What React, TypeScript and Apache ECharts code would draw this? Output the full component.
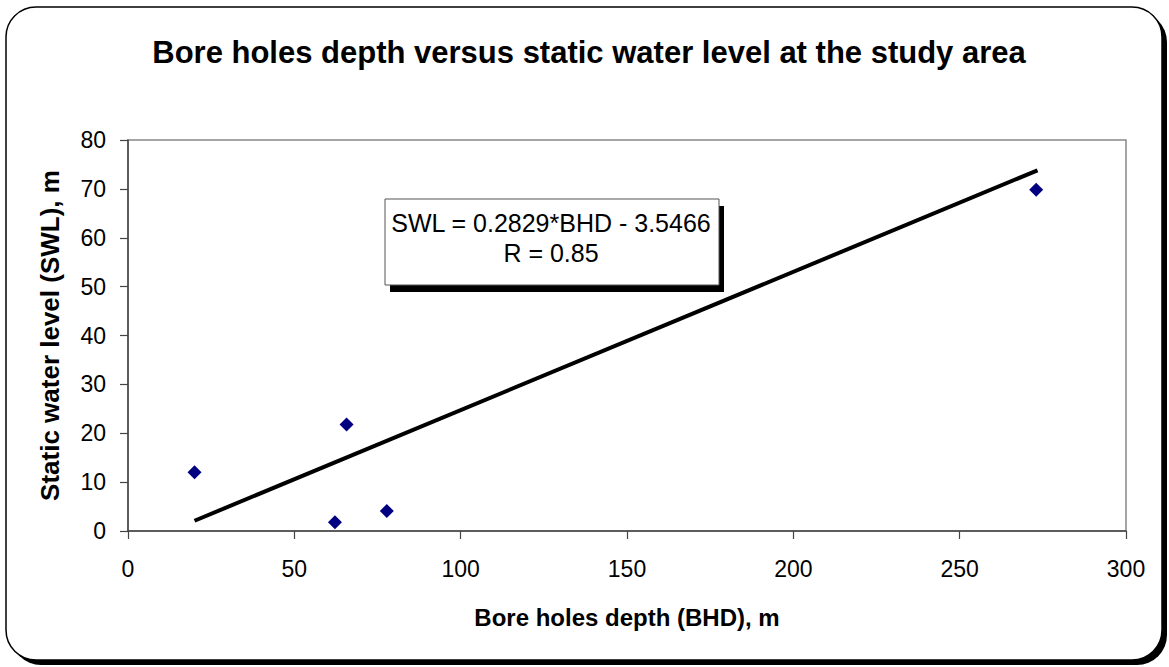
import React, { useEffect, useRef } from "react";
import * as echarts from "echarts";

const titleText = "Bore holes depth versus static water level at the study area";
const xAxisName = "Bore holes depth (BHD), m";
const yAxisName = "Static water level (SWL), m";
const equationLines = ["SWL = 0.2829*BHD - 3.5466", "R = 0.85"];

// observed bore holes: [depth BHD, static water level SWL]
const boreDepth = [20, 62.2, 65.7, 77.8, 273];
const waterLevel = [12, 1.8, 21.8, 4.1, 69.8];

// trend line endpoints
const trendDepth = [20, 273.4];
const trendLevel = [2.1, 73.8];

const xMin = 0, xMax = 300, xInterval = 50;
const yMin = 0, yMax = 80, yInterval = 10;

export default function App() {
  const ref = useRef<HTMLDivElement>(null);
  useEffect(() => {
    if (!ref.current) return;
    const chart = echarts.init(ref.current, null, { renderer: "svg" });
    const font = "Arial, 'Liberation Sans', Helvetica, sans-serif";
    const points = boreDepth.map((d, i) => [d, waterLevel[i]]);
    const trend = trendDepth.map((d, i) => [d, trendLevel[i]]);
    chart.setOption({
      animation: false,
      backgroundColor: "#ffffff",
      textStyle: { fontFamily: font },
      grid: {
        left: 128,
        right: 43,
        top: 140,
        bottom: 136,
        show: true,
        borderColor: "#888888",
        borderWidth: 1.5,
        backgroundColor: "transparent",
      },
      xAxis: {
        type: "value",
        min: xMin,
        max: xMax,
        interval: xInterval,
        name: xAxisName,
        nameLocation: "middle",
        nameGap: 74,
        nameTextStyle: { fontSize: 24, fontWeight: "bold", color: "#000", fontFamily: font },
        axisLine: { show: true, lineStyle: { color: "#444", width: 1.5 } },
        axisTick: { show: true, length: 8, lineStyle: { color: "#444", width: 1.2 } },
        axisLabel: { fontSize: 23, color: "#000", margin: 26, fontFamily: font },
        splitLine: { show: false },
      },
      yAxis: {
        type: "value",
        min: yMin,
        max: yMax,
        interval: yInterval,
        name: yAxisName,
        nameLocation: "middle",
        nameGap: 65,
        nameTextStyle: { fontSize: 26, fontWeight: "bold", color: "#000", fontFamily: font },
        axisLine: { show: true, lineStyle: { color: "#444", width: 1.5 } },
        axisTick: { show: true, length: 8, lineStyle: { color: "#444", width: 1.2 } },
        axisLabel: { fontSize: 23, color: "#000", margin: 22, fontFamily: font },
        splitLine: { show: false },
      },
      graphic: [
        {
          type: "rect",
          z: -20,
          silent: true,
          shape: { x: 11, y: 12, width: 1156, height: 653, r: 30 },
          style: { fill: "#000" },
        },
        {
          type: "rect",
          z: -19,
          silent: true,
          shape: { x: 6, y: 7, width: 1156, height: 653, r: 30 },
          style: { fill: "#fff", stroke: "#000", lineWidth: 1.5 },
        },
        {
          type: "text",
          z: 10,
          x: 589,
          y: 52,
          style: {
            text: titleText,
            font: `bold 31px ${font}`,
            fill: "#000",
            textAlign: "center",
            textVerticalAlign: "middle",
          },
        },
        {
          type: "rect",
          z: 20,
          silent: true,
          shape: { x: 390, y: 206, width: 334, height: 86 },
          style: { fill: "#000" },
        },
        {
          type: "rect",
          z: 21,
          silent: true,
          shape: { x: 385, y: 199, width: 334, height: 86 },
          style: { fill: "#fff", stroke: "#555", lineWidth: 1 },
        },
        {
          type: "text",
          z: 22,
          x: 551,
          y: 223,
          style: {
            text: equationLines[0],
            font: `25px ${font}`,
            fill: "#000",
            textAlign: "center",
            textVerticalAlign: "middle",
          },
        },
        {
          type: "text",
          z: 22,
          x: 551,
          y: 253,
          style: {
            text: equationLines[1],
            font: `25px ${font}`,
            fill: "#000",
            textAlign: "center",
            textVerticalAlign: "middle",
          },
        },
      ],
      series: [
        {
          type: "line",
          data: trend,
          showSymbol: false,
          symbol: "none",
          lineStyle: { color: "#000", width: 4 },
          z: 3,
        },
        {
          type: "scatter",
          data: points,
          symbol: "diamond",
          symbolSize: 14,
          itemStyle: { color: "#000080", opacity: 1 },
          z: 4,
        },
      ],
    });
    return () => chart.dispose();
  }, []);
  return (
    <div
      ref={ref}
      style={{ position: "absolute", left: 0, top: 0, width: 1169, height: 667 }}
    />
  );
}
